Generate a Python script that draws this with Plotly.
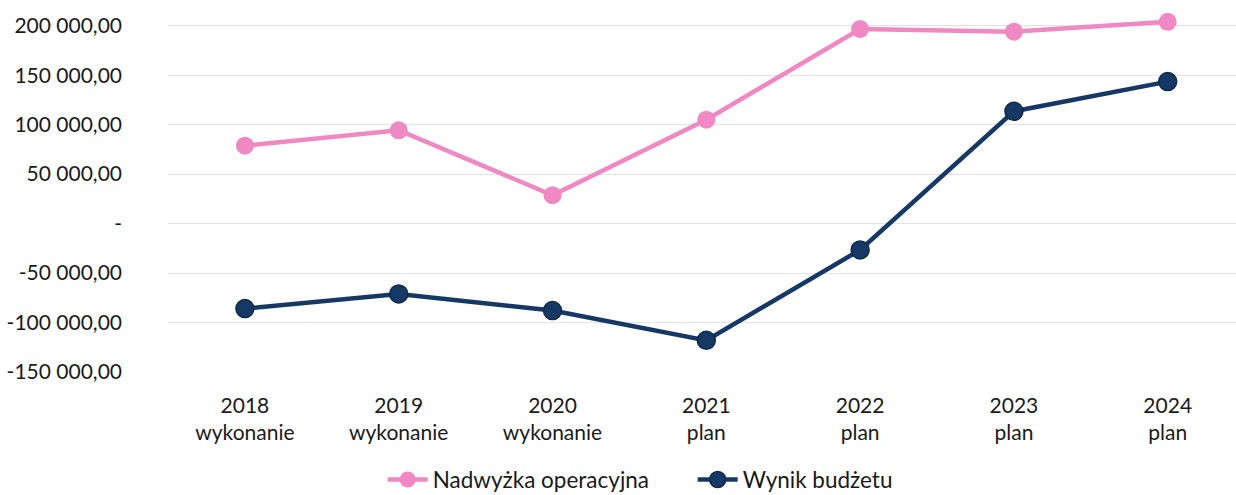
import plotly.graph_objs as go

# categories (year + status)
years = ['2018', '2019', '2020', '2021', '2022', '2023', '2024']
status = ['wykonanie', 'wykonanie', 'wykonanie', 'plan', 'plan', 'plan', 'plan']
categories = [y + '<br>' + s for y, s in zip(years, status)]

# series values
nadwyzka_operacyjna = [78700, 94300, 28700, 105000, 196700, 194000, 204000]
wynik_budzetu = [-85900, -71100, -87900, -118000, -26600, 113500, 143500]

# y axis ticks
y_tickvals = [200000, 150000, 100000, 50000, 0, -50000, -100000, -150000]
y_ticktext = ['200 000,00', '150 000,00', '100 000,00', '50 000,00', '-',
              '-50 000,00', '-100 000,00', '-150 000,00']

pink = '#F088C4'
navy = '#163864'
font_family = 'Lato, Open Sans, sans-serif'

fig = go.Figure()
fig.add_trace(go.Scatter(x=categories,
                         y=nadwyzka_operacyjna,
                         mode='lines+markers',
                         name='Nadwyżka operacyjna',
                         line={'color': pink, 'width': 4.5},
                         marker={'color': pink, 'size': 18}))
fig.add_trace(go.Scatter(x=categories,
                         y=wynik_budzetu,
                         mode='lines+markers',
                         name='Wynik budżetu',
                         line={'color': navy, 'width': 4.5},
                         marker={'color': navy, 'size': 18,
                                 'line': {'color': '#0f2a4d', 'width': 1.5}}))

# layout
fig.update_layout(width=1236,
                  height=495,
                  paper_bgcolor='white',
                  plot_bgcolor='white',
                  font={'family': font_family, 'size': 21, 'color': '#1a1a1a'},
                  margin={'l': 168, 'r': 0, 't': 0, 'b': 123, 'autoexpand': False},
                  legend={'orientation': 'h',
                          'x': 0.201, 'xanchor': 'left',
                          'y': -0.29, 'yanchor': 'middle',
                          'font': {'size': 22.5},
                          'itemwidth': 40,
                          'entrywidth': 255,
                          'traceorder': 'normal'})

# axes
fig.update_xaxes(range=[-0.5, 6.444],
                 showgrid=False,
                 showline=False,
                 zeroline=False,
                 ticks='',
                 automargin=False,
                 ticklabelstandoff=19,
                 tickfont={'size': 21})
fig.update_yaxes(range=[-150000, 226000],
                 tickvals=y_tickvals,
                 ticktext=y_ticktext,
                 showgrid=True,
                 gridcolor='#E3E3E3',
                 gridwidth=1,
                 zeroline=False,
                 showline=False,
                 ticks='',
                 automargin=False,
                 ticklabelstandoff=45,
                 tickfont={'size': 21})

# no page margin, so the figure sits at the window's corner
fig.write_html("out.html",
               config={'displayModeBar': False},
               post_script="document.body.style.margin='0';")
